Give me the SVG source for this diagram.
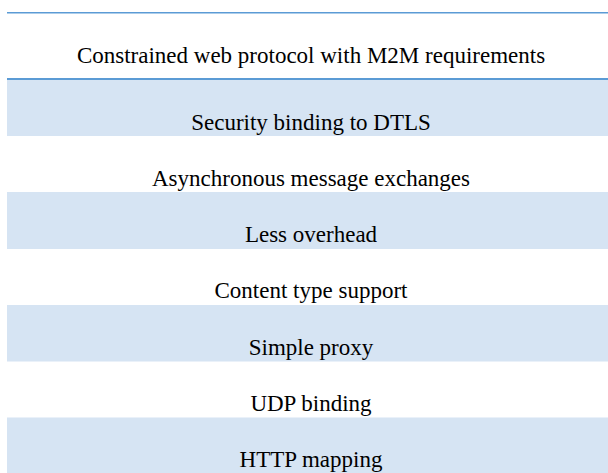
<svg xmlns="http://www.w3.org/2000/svg" width="608" height="473" viewBox="0 0 608 473">
  <style>
    .bg { fill: #ffffff; }
    .shade { fill: #D6E4F3; }
    .rule { fill: #5B9BD5; }
    .t { font-family: "Liberation Serif", "Times New Roman", Times, "DejaVu Serif", serif; font-size: 23px; fill: #000000; text-anchor: middle; }
  </style>
  <rect class="bg" x="0" y="0" width="608" height="473"/>
  <g id="header">
    <rect class="rule" x="7" y="12" width="601" height="1.5"/>
    <text class="t" x="311" y="63" font-family="Liberation Serif, serif">Constrained web protocol with M2M requirements</text>
    <rect class="rule" x="7" y="78" width="601" height="2"/>
  </g>
  <g id="row1">
    <rect class="shade" x="7" y="80" width="601" height="56"/>
    <text class="t" x="311" y="129.5">Security binding to DTLS</text>
  </g>
  <g id="row2">
    <text class="t" x="311" y="185.5">Asynchronous message exchanges</text>
  </g>
  <g id="row3">
    <rect class="shade" x="7" y="192" width="601" height="57"/>
    <text class="t" x="311" y="242">Less overhead</text>
  </g>
  <g id="row4">
    <text class="t" x="311" y="298">Content type support</text>
  </g>
  <g id="row5">
    <rect class="shade" x="7" y="305" width="601" height="56.5"/>
    <text class="t" x="311" y="355">Simple proxy</text>
  </g>
  <g id="row6">
    <text class="t" x="311" y="411">UDP binding</text>
  </g>
  <g id="row7">
    <rect class="shade" x="7" y="417.5" width="601" height="55.5"/>
    <text class="t" x="311" y="467">HTTP mapping</text>
  </g>
</svg>
